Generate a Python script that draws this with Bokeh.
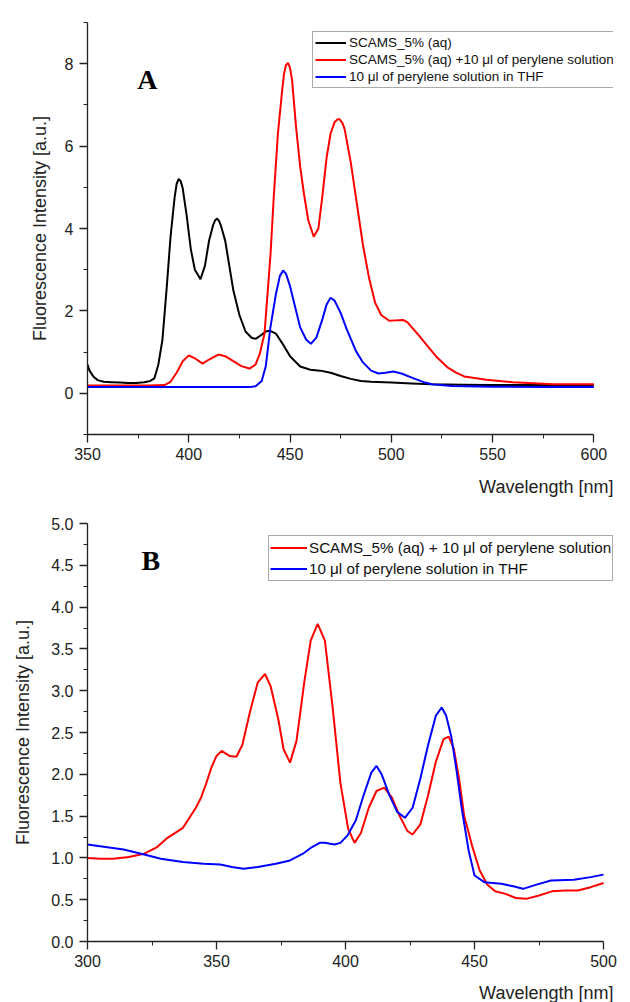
from bokeh.plotting import figure
from bokeh.layouts import column
from bokeh.models import Range1d, FixedTicker, Label, Legend, LegendItem, PrintfTickFormatter, Title
from bokeh.embed import file_html
from bokeh.resources import INLINE

# ---------- Panel A data ----------
a_black_x = [350, 351, 353, 355, 358, 362, 366, 370, 374, 378, 381, 383, 385, 387, 389, 391, 393, 394, 395, 396, 397, 399,
             401, 403, 405.8, 408, 410, 412, 413, 414, 415, 416, 418, 420, 422, 425, 428, 431, 433, 436, 438, 440, 443, 447, 450,
             455, 460, 465, 470, 475, 480, 485, 490, 500, 510, 520, 535, 550, 570, 585, 600]
a_black_y = [0.7, 0.55, 0.4, 0.32, 0.28, 0.27, 0.26, 0.25, 0.25, 0.27, 0.3, 0.36, 0.7, 1.3, 2.5, 3.8, 4.75, 5.08, 5.2, 5.15, 4.98, 4.3,
             3.5, 3.0, 2.77, 3.1, 3.7, 4.08, 4.2, 4.24, 4.18, 4.05, 3.7, 3.1, 2.5, 1.9, 1.5, 1.35, 1.32, 1.42, 1.5, 1.52, 1.45, 1.15, 0.9,
             0.65, 0.57, 0.55, 0.5, 0.42, 0.35, 0.3, 0.28, 0.26, 0.24, 0.22, 0.21, 0.2, 0.2, 0.2, 0.2]

a_red_x = [350, 360, 370, 380, 388, 391, 394, 397, 400, 403, 406.8, 410, 414.6, 418, 422, 426, 430, 433, 435, 437.4,
           440.4, 442, 444, 446, 447, 448, 449, 450, 451, 453, 455, 457, 459, 461.7, 464, 466, 468, 470, 472, 473.5, 474.5, 476, 477, 480,
           483, 486, 489, 492, 495, 499, 502, 505.8, 508, 511, 514, 517, 522, 527.7, 532, 536, 547, 560, 580, 600]
a_red_y = [0.19, 0.19, 0.19, 0.19, 0.2, 0.28, 0.5, 0.78, 0.92, 0.85, 0.72, 0.82, 0.94, 0.9, 0.78, 0.66, 0.6, 0.7, 0.95, 1.45,
           3.4, 4.8, 6.3, 7.3, 7.75, 7.97, 8.02, 7.9, 7.6, 6.45, 5.5, 4.8, 4.2, 3.8, 4.0, 4.8, 5.7, 6.3, 6.58, 6.65, 6.65, 6.55, 6.4, 5.6,
           4.6, 3.6, 2.8, 2.2, 1.9, 1.76, 1.77, 1.78, 1.72, 1.55, 1.38, 1.2, 0.9, 0.63, 0.5, 0.41, 0.33, 0.27, 0.22, 0.22]

a_blue_x = [350, 380, 410, 430, 433, 436, 438, 440.3, 443, 445, 446.6, 448, 450, 452, 455, 458, 460.3, 463, 466, 468,
            470, 472, 475, 478, 482.5, 486, 490, 493.7, 497, 501, 505, 511.7, 516, 520, 530, 550, 575, 600]
a_blue_y = [0.15, 0.15, 0.15, 0.15, 0.17, 0.3, 0.65, 1.6, 2.4, 2.85, 2.98, 2.9, 2.6, 2.2, 1.6, 1.3, 1.2, 1.35, 1.8, 2.15,
            2.32, 2.25, 1.95, 1.55, 1.03, 0.75, 0.55, 0.48, 0.5, 0.53, 0.48, 0.35, 0.27, 0.22, 0.18, 0.16, 0.15, 0.15]

a_x_ticks = [350, 400, 450, 500, 550, 600]
a_x_minor = [375, 425, 475, 525, 575]
a_y_ticks = [0, 2, 4, 6, 8]
a_y_minor = [-1, 1, 3, 5, 7, 9]

# ---------- Panel B data ----------
b_red_x = [300, 305, 310, 316, 322, 327, 331, 337, 342, 344, 346, 348, 350, 352, 355, 357.7, 360, 363, 366, 368.8,
           371, 374, 376, 378.5, 381, 384, 386.5, 389.2, 392, 395, 398, 401, 403.5, 406, 409, 412, 415, 418, 421, 424,
           426, 429, 432, 435, 438, 440, 442, 444, 446, 449, 452, 455, 458, 462, 466, 470, 475, 480, 485, 490, 495, 500]
b_red_y = [1.0, 0.99, 0.99, 1.01, 1.05, 1.13, 1.24, 1.36, 1.6, 1.72, 1.89, 2.08, 2.22, 2.28, 2.22, 2.21, 2.35, 2.75, 3.1, 3.2,
           3.05, 2.65, 2.3, 2.14, 2.4, 3.1, 3.6, 3.8, 3.6, 2.8, 1.9, 1.35, 1.18, 1.3, 1.6, 1.8, 1.84, 1.72, 1.5, 1.32,
           1.28, 1.4, 1.75, 2.15, 2.42, 2.45, 2.3, 1.95, 1.5, 1.15, 0.85, 0.68, 0.6, 0.57, 0.52, 0.51, 0.55, 0.6, 0.61, 0.61, 0.65, 0.7]

b_blue_x = [300, 307, 314, 322, 328.4, 337, 345, 351.5, 356, 360.4, 366, 373, 378.5, 383.5, 387, 390, 392, 395.7, 398, 400.8,
            404, 407, 410, 412, 414, 417, 420, 423, 426, 429, 432, 435, 437.3, 439, 441, 443, 445, 447.7, 450, 453.8,
            460.4, 465, 468.8, 474, 479.6, 488.5, 495, 500]
b_blue_y = [1.16, 1.13, 1.1, 1.04, 0.99, 0.95, 0.93, 0.92, 0.89, 0.87, 0.89, 0.93, 0.97, 1.05, 1.13, 1.18, 1.18, 1.16, 1.18, 1.27,
            1.45, 1.75, 2.02, 2.1, 2.0, 1.75, 1.55, 1.48, 1.6, 1.95, 2.35, 2.7, 2.8, 2.7, 2.45, 2.05, 1.6, 1.09, 0.79, 0.71,
            0.69, 0.66, 0.63, 0.68, 0.73, 0.74, 0.77, 0.8]

b_x_ticks = [300, 350, 400, 450, 500]
b_x_minor = [325, 375, 425, 475]
b_y_ticks = [0.0, 0.5, 1.0, 1.5, 2.0, 2.5, 3.0, 3.5, 4.0, 4.5, 5.0]
b_y_minor = [0.25, 0.75, 1.25, 1.75, 2.25, 2.75, 3.25, 3.75, 4.25, 4.75]

labels_a = ["SCAMS_5% (aq)", "SCAMS_5% (aq) +10 \u03bcl of perylene solution", "10 \u03bcl of perylene solution in THF"]
labels_b = ["SCAMS_5% (aq) + 10 \u03bcl of perylene solution", "10 \u03bcl of perylene solution in THF"]
x_label = "Wavelength [nm]"
y_label = "Fluorescence Intensity [a.u.]"

FONT = "Liberation Sans"
RED = "#ff0000"
BLUE = "#0000ff"
BLACK = "#000000"


def style(p, xt, xm, yt, ym, xbounds, ytick_stand, ylab_stand, gap):
    p.xgrid.visible = False
    p.ygrid.visible = False
    p.outline_line_color = None
    p.xaxis.ticker = FixedTicker(ticks=xt, minor_ticks=xm)
    p.yaxis.ticker = FixedTicker(ticks=yt, minor_ticks=ym)
    p.xaxis.bounds = xbounds
    for ax in (p.xaxis[0], p.yaxis[0]):
        ax.axis_line_color = "#222222"
        ax.axis_line_width = 1.3
        ax.major_tick_line_color = "#222222"
        ax.minor_tick_line_color = "#222222"
        ax.major_tick_line_width = 1.3
        ax.minor_tick_line_width = 1.0
        ax.major_tick_out = 8
        ax.major_tick_in = 0
        ax.minor_tick_out = 4
        ax.minor_tick_in = 0
        ax.major_label_text_font = FONT
        ax.major_label_text_font_size = "16px"
        ax.major_label_text_color = "#222222"
        ax.axis_label_text_font = FONT
        ax.axis_label_text_font_style = "normal"
        ax.axis_label_text_color = "#222222"
    p.xaxis.major_label_standoff = 5
    p.yaxis.major_label_standoff = ytick_stand
    p.yaxis.axis_label = y_label
    p.yaxis.axis_label_text_font_size = "18px"
    p.yaxis.axis_label_standoff = ylab_stand
    # invisible spacer between the tick labels and the right-aligned x title
    xa = p.xaxis[0]
    xa.axis_label = "\u00a0"
    xa.axis_label_text_font_size = "1px"
    xa.axis_label_standoff = gap
    p.add_layout(Title(text=x_label, align="right", offset=0, standoff=0, text_font=FONT,
                       text_font_size="18px", text_font_style="normal", text_color="#222222"), "below")


def mk_legend(items, loc, fsize, rowh, glyph_w, pad, stand):
    leg = Legend(items=items, location=loc)
    leg.label_text_font = FONT
    leg.label_text_font_size = fsize
    leg.label_text_color = "#111111"
    leg.glyph_width = glyph_w
    leg.glyph_height = rowh
    leg.label_height = rowh
    leg.label_standoff = stand
    leg.spacing = 0
    leg.padding = pad
    leg.margin = 0
    leg.border_line_color = "#555555"
    leg.border_line_width = 1
    return leg


# ---------- Figure A ----------
pa = figure(width=626, height=500, output_backend="svg", toolbar_location=None,
            x_range=Range1d(350, 609.7), y_range=Range1d(-1, 9),
            min_border_left=87, min_border_right=4, min_border_top=22, min_border_bottom=66)
style(pa, a_x_ticks, a_x_minor, a_y_ticks, a_y_minor, (350, 600), 6, 12, 8)
ra1 = pa.line(a_black_x, a_black_y, line_color=BLACK, line_width=2)
ra2 = pa.line(a_red_x, a_red_y, line_color=RED, line_width=2)
ra3 = pa.line(a_blue_x, a_blue_y, line_color=BLUE, line_width=2)

leg_a = mk_legend([LegendItem(label=labels_a[0], renderers=[ra1]),
                   LegendItem(label=labels_a[1], renderers=[ra2]),
                   LegendItem(label=labels_a[2], renderers=[ra3])], (225, 346), "13.5px", 17, 31, 2, 3)
pa.add_layout(leg_a, "center")

pa.add_layout(Label(x=379.6, y=7.62, text="A", text_font="Liberation Serif", text_font_style="bold",
                    text_font_size="28px", text_align="center", text_baseline="middle", text_color="#000000"))

# ---------- Figure B ----------
pb = figure(width=626, height=502, output_backend="svg", toolbar_location=None,
            x_range=Range1d(300, 503.85), y_range=Range1d(0, 5),
            min_border_left=83, min_border_right=13, min_border_top=23, min_border_bottom=61)
style(pb, b_x_ticks, b_x_minor, b_y_ticks, b_y_minor, (300, 500), 6, 15, 7)
pb.yaxis.formatter = PrintfTickFormatter(format="%.1f")
rb1 = pb.line(b_red_x, b_red_y, line_color=RED, line_width=2)
rb2 = pb.line(b_blue_x, b_blue_y, line_color=BLUE, line_width=2)

leg_b = mk_legend([LegendItem(label=labels_b[0], renderers=[rb1]),
                   LegendItem(label=labels_b[1], renderers=[rb2])], (181, 360), "15.2px", 21, 37, 1, 2)
pb.add_layout(leg_b, "center")

pb.add_layout(Label(x=324.5, y=4.56, text="B", text_font="Liberation Serif", text_font_style="bold",
                    text_font_size="28px", text_align="center", text_baseline="middle", text_color="#000000"))

layout = column(pa, pb, spacing=0)
open("out.html", "w").write(file_html(layout, INLINE))
